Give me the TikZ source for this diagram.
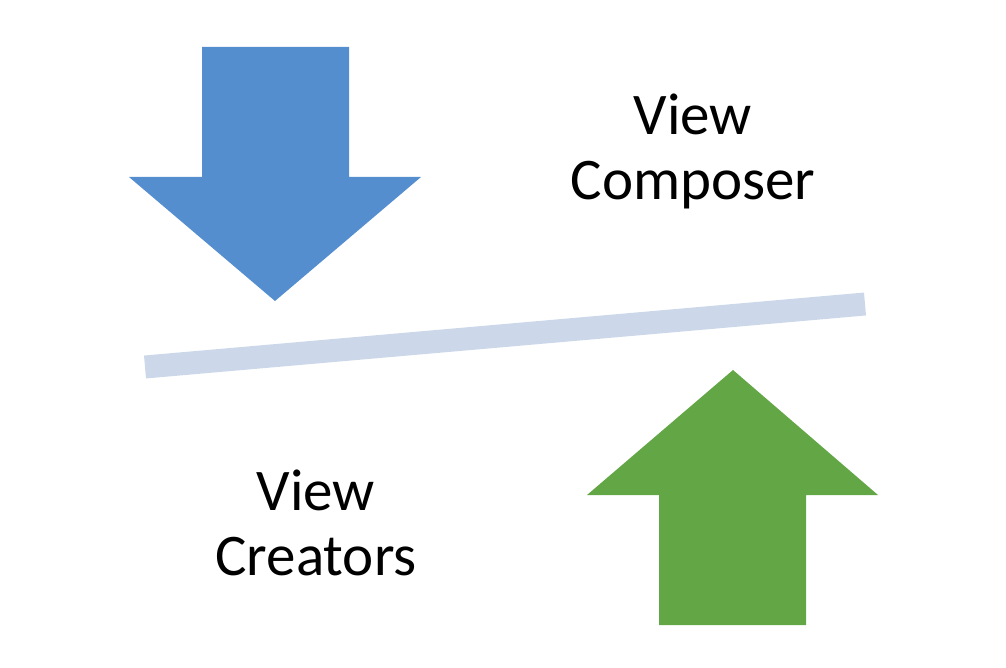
\documentclass[tikz,border=0pt]{standalone}
\usepackage{fontspec}
\setmainfont{Carlito}
\usepackage{xcolor}
\definecolor{downblue}{RGB}{85,142,206}
\definecolor{upgreen}{RGB}{99,166,70}
\definecolor{barblue}{RGB}{204,216,234}

\begin{document}
\begin{tikzpicture}[
  x=1pt, y=-1pt,
  label/.style={align=center, font=\fontsize{59}{65}\selectfont, inner sep=0pt}
]
\useasboundingbox (0,0) rectangle (1006,668);

% arrow pushing down (composer side)
\fill[downblue] (202,47) -- (349,47) -- (349,177) -- (421,177)
  -- (275,301) -- (129,177) -- (202,177) -- cycle;

% arrow pushing up (creators side)
\fill[upgreen] (659,625) -- (806,625) -- (806,495) -- (878,495)
  -- (733,370) -- (587,495) -- (659,495) -- cycle;

% the tilted bar
\coordinate (barL) at (145,367);
\coordinate (barR) at (865,304);
\draw[barblue, line width=23pt] (barL) -- (barR);

\node[label] (composer) at (693,151) {View\\Composer};
\node[label] (creators) at (316,523) {View\\Creators};

\end{tikzpicture}
\end{document}
